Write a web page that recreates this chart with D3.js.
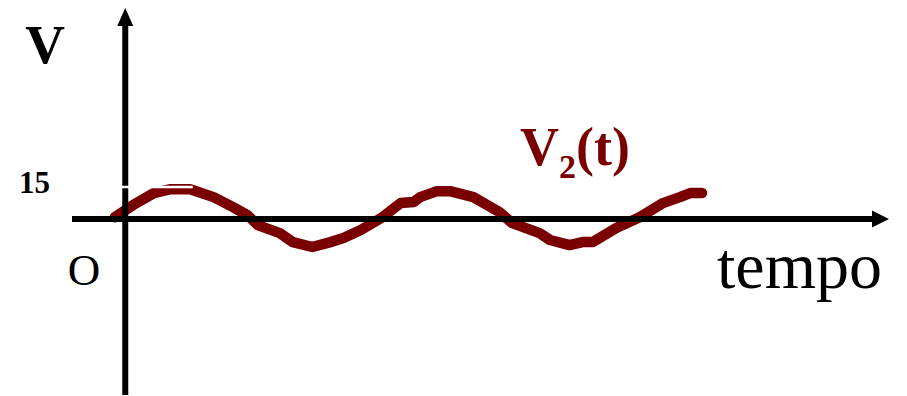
<!DOCTYPE html>
<html>
<head>
<meta charset="utf-8">
<script src="https://cdn.jsdelivr.net/npm/d3@7"></script>
<style>
  html, body { margin: 0; padding: 0; background: #fff; }
  svg { display: block; }
  text { font-family: "Liberation Serif", "Times New Roman", Tinos, "DejaVu Serif", serif; }
</style>
</head>
<body>
<svg id="chart" width="907" height="396"></svg>
<script>
// time values (arbitrary units)
const times = [-0.8, 0.6, 2.2, 3.5, 5.0, 6.8, 8.3, 9.4, 10.2, 11.9, 12.9, 14.4, 15.8, 16.8, 18.1, 19.8, 21.2, 22.2, 22.7, 24.0, 25.0, 26.8, 28.8, 29.8, 31.9, 32.7, 34.2, 35.2, 36.0, 37.8, 39.6, 41.4, 42.7, 43.5, 44.4];
// voltage values V2(t)
const volts = [0.9, 6.6, 12.2, 14.0, 14.0, 10.3, 5.6, 1.9, -2.8, -6.6, -10.8, -13.1, -10.8, -8.9, -5.2, 0.9, 7.5, 8.0, 10.3, 13.1, 13.1, 10.3, 3.3, -1.9, -6.6, -9.8, -12.2, -10.8, -10.8, -4.2, 0.9, 7.5, 10.3, 12.2, 12.2];
// tick labels
const yTickValues = [15];
const yTickLabels = ["15"];
const originLabel = "O";
const yAxisLabel = "V";
const xAxisLabel = "tempo";
const seriesName = "V";
const seriesSub = "2";
const seriesTail = "(t)";

const svg = d3.select("#chart");
const x = d3.scaleLinear().domain([-4.1, 58.8]).range([72, 889]);
const y = d3.scaleLinear().domain([-82.5, 99]).range([395, 8]);

const curveColor = "#7a0000";

// curve
const data = times.map((t, i) => ({ t, v: volts[i] }));
const line = d3.line().x(d => x(d.t)).y(d => y(d.v));
svg.append("path")
  .datum(data)
  .attr("d", line)
  .attr("fill", "none")
  .attr("stroke", curveColor)
  .attr("stroke-width", 10.5)
  .attr("stroke-linejoin", "round")
  .attr("stroke-linecap", "round");

// axes
const axisW = 6;
svg.append("line")
  .attr("x1", x(-4.1)).attr("x2", x(58.8) - 16)
  .attr("y1", y(0)).attr("y2", y(0))
  .attr("stroke", "#000").attr("stroke-width", axisW);
svg.append("path")
  .attr("d", `M${x(58.8)},${y(0)} L${x(58.8) - 17},${y(0) - 8.5} L${x(58.8) - 17},${y(0) + 8.5} Z`)
  .attr("fill", "#000");
svg.append("line")
  .attr("x1", x(0)).attr("x2", x(0))
  .attr("y1", y(-82.5)).attr("y2", y(99) + 16)
  .attr("stroke", "#000").attr("stroke-width", axisW);
svg.append("path")
  .attr("d", `M${x(0)},${y(99)} L${x(0) - 8},${y(99) + 18} L${x(0) + 8},${y(99) + 18} Z`)
  .attr("fill", "#000");

// white mark at 15
yTickValues.forEach(v => {
  svg.append("line")
    .attr("x1", x(-0.4)).attr("x2", x(5.2))
    .attr("y1", y(v)).attr("y2", y(v))
    .attr("stroke", "#fff").attr("stroke-width", 2.5);
});

// tick labels
svg.selectAll("text.ytick")
  .data(yTickValues)
  .enter().append("text")
  .attr("class", "ytick")
  .attr("x", 50)
  .attr("y", d => y(d) + 6)
  .attr("text-anchor", "end")
  .attr("font-size", 31)
  .attr("font-weight", "bold")
  .text((d, i) => yTickLabels[i]);

svg.append("text")
  .attr("x", 84).attr("y", 285)
  .attr("text-anchor", "middle")
  .attr("font-size", 45)
  .text(originLabel);

svg.append("text")
  .attr("x", 45).attr("y", 63)
  .attr("text-anchor", "middle")
  .attr("font-size", 55)
  .attr("font-weight", "bold")
  .text(yAxisLabel);

svg.append("text")
  .attr("x", 717).attr("y", 288)
  .attr("font-size", 66)
  .text(xAxisLabel);

const lab = svg.append("text")
  .attr("x", 520).attr("y", 165)
  .attr("font-size", 54)
  .attr("font-weight", "bold")
  .attr("fill", curveColor);
lab.append("tspan").text(seriesName);
lab.append("tspan").attr("font-size", 34).attr("dy", 13).text(seriesSub);
lab.append("tspan").attr("dy", -13).text(seriesTail);
</script>
</body>
</html>
